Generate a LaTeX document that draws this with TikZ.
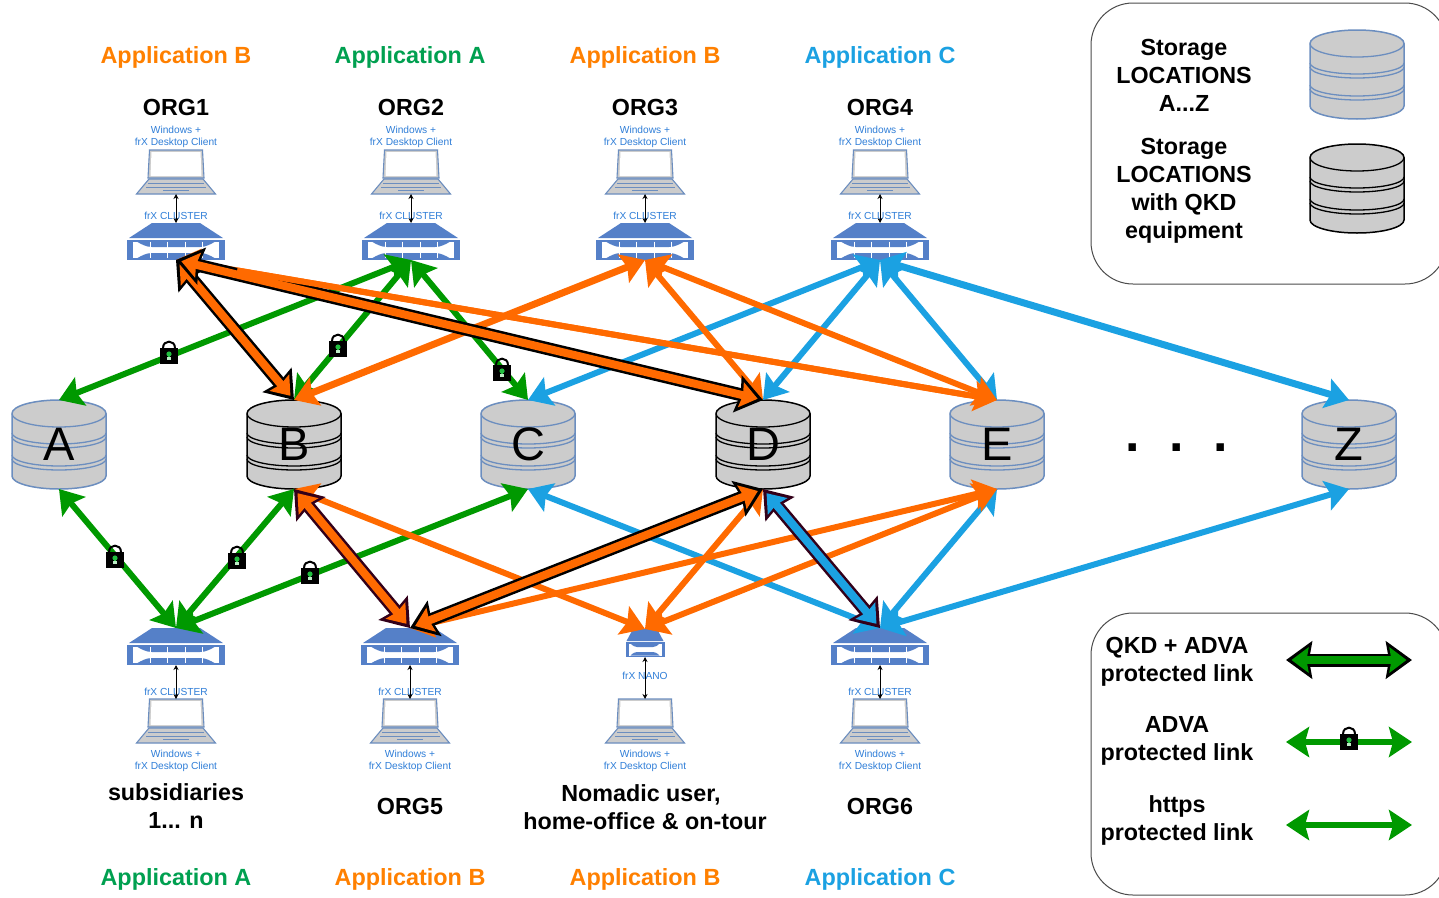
\documentclass[tikz,border=0pt]{standalone}
\usepackage{fontspec}
\setmainfont{Liberation Sans}
\usetikzlibrary{arrows.meta,calc}
\definecolor{cOrange}{HTML}{FF6A00}
\definecolor{cGreen}{HTML}{009900}
\definecolor{cBlue}{HTML}{1BA1E2}
\definecolor{cPurple}{HTML}{33001A}
\definecolor{cEdge}{HTML}{6C8EBF}
\definecolor{cServer}{HTML}{5580C8}
\definecolor{cGray}{HTML}{CCCCCC}
\definecolor{cSmall}{HTML}{2F7ED8}
\definecolor{cAppGreen}{HTML}{00A050}
\definecolor{cAppOrange}{HTML}{FF8000}
\definecolor{cAppBlue}{HTML}{1BA1E2}
\definecolor{cKey}{HTML}{22C040}
\tikzset{
  anchorbox/.style={inner sep=0pt,outer sep=0pt,minimum width=#1},
  apptext/.style={font=\fontsize{23.4}{27}\selectfont\bfseries,inner sep=0pt},
  orgtext/.style={font=\fontsize{23.3}{28}\selectfont\bfseries,inner sep=0pt,align=center,text=black},
  smalltext/.style={font=\fontsize{10.2}{12}\selectfont,inner sep=0pt,align=center,text=cSmall},
  cyltext/.style={font=\fontsize{47}{50}\selectfont,inner sep=0pt,outer sep=0pt,minimum width=95pt,minimum height=89pt},
  link/.style={line width=#1,{Stealth[length=23pt,width=30pt,inset=4pt]}-{Stealth[length=23pt,width=30pt,inset=4pt]}},
  link/.default=6pt,
  qkdout/.style={line width=13pt,draw=#1,{Stealth[length=26pt,width=37pt,inset=3pt]}-{Stealth[length=26pt,width=37pt,inset=3pt]}},
  qkdin/.style={line width=8pt,draw=#1,shorten <=5.5pt,shorten >=5.5pt,{Stealth[length=17pt,width=25pt,inset=2pt]}-{Stealth[length=17pt,width=25pt,inset=2pt]}},
  overlay link/.style={line width=6pt,draw=cOrange,shorten <=62pt,shorten >=30pt},
  thin link/.style={line width=0.7pt,black,{Stealth[length=5pt,width=5pt]}-{Stealth[length=5pt,width=5pt]}},
  up link/.style={line width=0.7pt,black,{Stealth[length=5pt,width=5pt]}-{Stealth[length=5pt,width=5pt]}},
}
% cylinder: colour, x, top y, name, letter
\newcommand{\cyl}[5]{%
  \begin{scope}[shift={(#2,#3)}]
    \path[fill=cGray,draw=#1,line width=1.5pt] (-47,13.5) arc[start angle=180,end angle=0,x radius=47pt,y radius=13.5pt] -- (47,76) arc[start angle=0,end angle=-180,x radius=47pt,y radius=13pt] -- cycle;
    \draw[#1,line width=1.3pt] (-47,13.5) arc[start angle=180,end angle=360,x radius=47pt,y radius=13.5pt];
    \foreach \yy in {33,37,55,59}{\draw[#1,line width=1.3pt] (-47,\yy) arc[start angle=180,end angle=360,x radius=47pt,y radius=11pt];}
  \end{scope}
  \node[cyltext] (#4) at (#2,#3+44.5) {#5};}
% cluster: x, top y, name
\newcommand{\cluster}[3]{%
  \begin{scope}[shift={(#1,#2)}]
    \fill[cServer] (-24,0) -- (24,0) -- (47,15) -- (-47,15) -- cycle;
    \fill[cServer] (-49,17) rectangle (49,37);
    \fill[white] (-43,18.7) rectangle (43,35.3);
    \fill[cServer] (-39,18.7) -- (39,18.7) .. controls (35,21) and (30,24) .. (24,24) -- (-24,24) .. controls (-30,24) and (-35,21) .. (-39,18.7) -- cycle;
    \fill[cServer] (-39,35.3) -- (39,35.3) .. controls (35,33) and (30,30) .. (24,30) -- (-24,30) .. controls (-30,30) and (-35,33) .. (-39,35.3) -- cycle;
    \foreach \dx in {-26,-9,9,26}{\draw[white,line width=0.4pt] (\dx,18.7) -- (\dx,35.3);}
  \end{scope}
  \node[anchorbox=98pt,minimum height=37pt] (#3) at (#1,#2+18.5) {};}
% nano: x, top y, name
\newcommand{\nano}[3]{%
  \begin{scope}[shift={(#1,#2)}]
    \fill[cServer] (-12,0) -- (12,0) -- (18.5,12) -- (-18.5,12) -- cycle;
    \fill[cServer] (-19.5,13) rectangle (19.5,28);
    \fill[white] (-16.5,14.5) rectangle (16.5,26.5);
    \fill[cServer] (-14.5,14.5) -- (14.5,14.5) .. controls (12,17) and (10,18) .. (8,18) -- (-8,18) .. controls (-10,18) and (-12,17) .. (-14.5,14.5) -- cycle;
    \fill[cServer] (-14.5,26.5) -- (14.5,26.5) .. controls (12,24) and (10,23) .. (8,23) -- (-8,23) .. controls (-10,23) and (-12,24) .. (-14.5,26.5) -- cycle;
  \end{scope}
  \node[anchorbox=39pt,minimum height=28pt] (#3) at (#1,#2+14) {};}
% laptop: x, top y, name
\newcommand{\laptop}[3]{%
  \begin{scope}[shift={(#1,#2)}]
    \path[fill=cGray,draw=cEdge,line width=1.1pt] (-26.5,0) -- (26.5,0) -- (28,28) -- (-28,28) -- cycle;
    \fill[white] (-24.5,2) -- (24.5,2) -- (25.5,26) -- (-25.5,26) -- cycle;
    \path[fill=cGray,draw=cEdge,line width=1.1pt] (-27,29) -- (27,29) -- (39.5,44) -- (-39.5,44) -- cycle;
    \draw[cEdge,line width=0.7pt] (-28,33) -- (28,33) (-30,37) -- (30,37);
    \draw[cEdge,line width=1.2pt] (-13,40.5) -- (13,40.5);
  \end{scope}
  \node[anchorbox=79pt,minimum height=44pt] (#3) at (#1,#2+22) {};}
% lock: centre x, centre y
\newcommand{\padlock}[2]{%
  \begin{scope}[shift={(#1,#2)}]
    \draw[black,line width=2pt] (-6,-3) -- (-6,-4) .. controls (-6,-12.5) and (6,-12.5) .. (6,-4) -- (6,-3);
    \fill[black] (-9,-4) rectangle (9,11.5);
    \fill[cKey] (0,2) circle[radius=2.6pt];
    \fill[cKey] (-1.3,2) rectangle (1.3,5);
    \fill[white!70!cKey] (-1.8,5) rectangle (1.8,8);
  \end{scope}}
\newcommand{\qkd}[4]{%
  \draw[qkdout=#4] (#1) -- (#2);
  \draw[qkdin=#3] (#1) -- (#2);}
\begin{document}
\begin{tikzpicture}[x=1pt,y=-1pt]
\clip (0,0) rectangle (1439,897);
\fill[white] (0,0) rectangle (1439,897);

% legend boxes
\draw[black!70,line width=1pt,rounded corners=42pt] (1091,3) rectangle (1447,284);
\draw[black!70,line width=1pt,rounded corners=42pt] (1091,613) rectangle (1447,895);

% top labels
\node[apptext,text=cAppOrange] (ta1) at (176,57.5) {Application B};
\node[apptext,text=cAppGreen] (ta2) at (410,57.5) {Application A};
\node[apptext,text=cAppOrange] (ta3) at (645,57.5) {Application B};
\node[apptext,text=cAppBlue] (ta4) at (880,57.5) {Application C};
\node[orgtext] (o1) at (176,107) {ORG1};
\node[orgtext] (o2) at (411,107) {ORG2};
\node[orgtext] (o3) at (645,107) {ORG3};
\node[orgtext] (o4) at (880,107) {ORG4};

% top clients
\foreach \xx/\nn in {176/1,411/2,645/3,880/4}{
  \node[smalltext] (tw\nn) at (\xx,137) {Windows +\\frX Desktop Client};
  \laptop{\xx}{150}{tl\nn}
  \cluster{\xx}{223}{ts\nn}
  \node[smalltext] (tc\nn) at (\xx,216) {frX CLUSTER};
  \draw[thin link] (tl\nn.south) -- (ts\nn.north);
}
% bottom clients
\foreach \xx/\nn in {176/1,410/2,880/4}{
  \cluster{\xx}{628}{bs\nn}
  \laptop{\xx}{699}{bl\nn}
  \node[smalltext] (bc\nn) at (\xx,691.5) {frX CLUSTER};
  \draw[up link] (bl\nn.north) -- (bs\nn.south);
  \node[smalltext] (bw\nn) at (\xx,761) {Windows +\\frX Desktop Client};
}
\nano{645}{629}{bs3}
\laptop{645}{699}{bl3}
\node[smalltext] (bc3) at (645,676) {frX NANO};
\draw[thin link] (bl3.north) -- (bs3.south);
\node[smalltext] (bw3) at (645,761) {Windows +\\frX Desktop Client};

% storage
\cyl{cEdge}{59}{400}{A}{A}
\cyl{black}{294}{400}{B}{B}
\cyl{cEdge}{528}{400}{C}{C}
\cyl{black}{763}{400}{D}{D}
\cyl{cEdge}{997}{400}{E}{E}
\cyl{cEdge}{1349}{400}{Z}{Z}
\node[inner sep=0pt,anchor=base,font=\fontsize{52}{52}\selectfont\bfseries] (dots) at (1177,451) {.\hspace{29.5pt}.\hspace{29.5pt}.};

% upper connectors
\draw[link,cBlue] (ts4.south) -- (C.north);
\draw[link,cBlue] (ts4.south) -- (D.north);
\draw[link,cBlue] (ts4.south) -- (E.north);
\draw[link=7pt,cBlue] (ts4.south) -- (Z.north);
\draw[link,cGreen] (ts2.south) -- (A.north);
\draw[link,cGreen] (ts2.south) -- (B.north);
\draw[link,cGreen] (ts2.south) -- (C.north);
\draw[link=7pt,cOrange] (ts3.south) -- (B.north);
\draw[link,cOrange] (ts3.south) -- (D.north);
\draw[link,cOrange] (ts3.south) -- (E.north);
\draw[link,cOrange] (ts1.south) -- (E.north);
\qkd{ts1.south}{B.north}{cOrange}{black}
\qkd{ts1.south}{D.north}{cOrange}{black}
\draw[overlay link] (ts1.south) -- (E.north);

% lower connectors
\draw[link,cBlue] (bs4.north) -- (C.south);
\draw[link,cBlue] (bs4.north) -- (E.south);
\draw[link,cBlue] (bs4.north) -- (Z.south);
\draw[link,cGreen] (bs1.north) -- (A.south);
\draw[link,cGreen] (bs1.north) -- (B.south);
\draw[link,cGreen] (bs1.north) -- (C.south);
\draw[link,cOrange] (bs3.north) -- (B.south);
\draw[link,cOrange] (bs3.north) -- (D.south);
\draw[link,cOrange] (bs3.north) -- (E.south);
\draw[link,cOrange] (bs2.north) -- (E.south);
\qkd{bs2.north}{B.south}{cOrange}{cPurple}
\qkd{bs2.north}{D.south}{cOrange}{black}
\qkd{bs4.north}{D.south}{cBlue}{cPurple}

% locks
\padlock{169}{352}
\padlock{338}{345}
\padlock{502}{369}
\padlock{115}{556}
\padlock{237}{557}
\padlock{310}{572}

% bottom labels
\node[orgtext] (n1) at (176,806) {subsidiaries\\1... n};
\node[orgtext] (n2) at (410,806) {ORG5};
\node[orgtext] (n3) at (645,807) {\hspace*{-8pt}Nomadic user,\\home-office \& on-tour};
\node[orgtext] (n4) at (880,806) {ORG6};
\node[apptext,text=cAppGreen] (ba1) at (176,879.5) {Application A};
\node[apptext,text=cAppOrange] (ba2) at (410,879.5) {Application B};
\node[apptext,text=cAppOrange] (ba3) at (645,879.5) {Application B};
\node[apptext,text=cAppBlue] (ba4) at (880,879.5) {Application C};

% legend 1
\node[orgtext] (l1) at (1184,75) {Storage\\LOCATIONS\\A...Z};
\node[orgtext] (l2) at (1184,190.5) {Storage\\LOCATIONS\\with QKD\\equipment};
\cyl{cEdge}{1357}{30}{lc1}{}
\cyl{black}{1357}{144}{lc2}{}

% legend 2
\node[orgtext] (l3) at (1177,662) {QKD + ADVA\\protected link};
\node[orgtext] (l4) at (1177,741) {ADVA\\protected link};
\node[orgtext] (l5) at (1177,820) {https\\protected link};
\coordinate (q1) at (1286,660); \coordinate (q2) at (1412,660);
\coordinate (a1) at (1286,742); \coordinate (a2) at (1412,742);
\coordinate (h1) at (1286,825); \coordinate (h2) at (1412,825);
\qkd{q1}{q2}{cGreen}{black}
\draw[link=6pt,cGreen] (a1) -- (a2);
\draw[link=6pt,cGreen] (h1) -- (h2);
\padlock{1349}{738}
\end{tikzpicture}
\end{document}
